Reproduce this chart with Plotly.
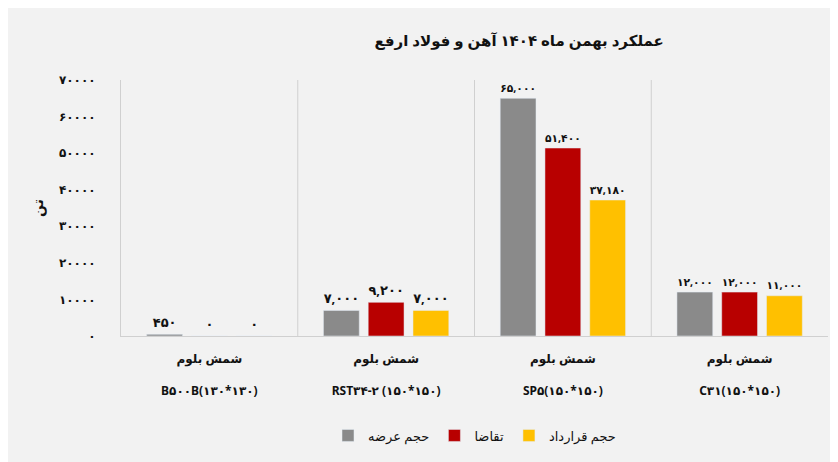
import plotly.graph_objects as go

categories = ["<b>شمش بلوم</b><br><br><b>B۵۰۰B(۱۳۰*۱۳۰)</b>", "<b>شمش بلوم</b><br><br><b>RST۳۴-۲ (۱۵۰*۱۵۰)</b>",
              "<b>شمش بلوم</b><br><br><b>SP۵(۱۵۰*۱۵۰)</b>", "<b>شمش بلوم</b><br><br><b>C۳۱(۱۵۰*۱۵۰)</b>"]
supply = [450, 7000, 65000, 12000]
demand = [0, 9200, 51400, 12000]
contract = [0, 7000, 37180, 11000]
series_names = ["حجم عرضه", "تقاضا", "حجم قرارداد"]
tick_vals = [0, 10000, 20000, 30000, 40000, 50000, 60000, 70000]

FA = str.maketrans("0123456789", "۰۱۲۳۴۵۶۷۸۹")


def fa(n, comma=True):
    s = f"{n:,}" if comma else str(n)
    return s.translate(FA)


colors = ["#8a8a8a", "#b80000", "#ffc000"]
font = "Noto Sans, DejaVu Sans"

fig = go.Figure()
for name, vals, c in zip(series_names, [supply, demand, contract], colors):
    fig.add_trace(go.Bar(
        x=categories, y=vals, name=name, marker=dict(color=c),
        text=["<b>" + fa(v) + "</b>" for v in vals], textposition="outside",
        textfont=dict(size=13, color="#111", family=font),
        cliponaxis=False,
    ))

# vertical separators between categories
for xb in [0.5, 1.5, 2.5]:
    fig.add_shape(type="line", xref="x", yref="paper", x0=xb, x1=xb, y0=0, y1=1,
                  line=dict(color="#d0d0d0", width=1))

fig.update_layout(
    width=838, height=462,
    paper_bgcolor="#f2f2f2", plot_bgcolor="#f2f2f2",
    title=dict(text="<b>عملکرد بهمن ماه ۱۴۰۴ آهن و فولاد ارفع</b>", x=0.61, y=0.94,
               xanchor="center", font=dict(size=15, family=font, color="#111")),
    margin=dict(l=113, r=18, t=72, b=134, autoexpand=False),
    barmode="group", bargap=0.24, bargroupgap=0.2,
    font=dict(family=font, color="#111"),
    legend=dict(orientation="h", x=0.5, xanchor="center", y=-0.33, yanchor="top",
                font=dict(size=13)),
    showlegend=True,
)
fig.update_xaxes(showline=True, linecolor="#d0d0d0", tickfont=dict(size=12, color="#111"),
                 showgrid=False, ticklabelstandoff=12, automargin=False)
fig.update_yaxes(range=[0, 70000], tickvals=tick_vals,
                 ticktext=["<b>" + fa(v, False) + "</b>" for v in tick_vals],
                 showgrid=False, showline=True, linecolor="#d0d0d0",
                 tickfont=dict(size=12, color="#111"), ticks="", ticklabelstandoff=22,
                 title=dict(text="<b>تن</b>", font=dict(size=14), standoff=12),
                 zeroline=False, automargin=False)

fig.write_html("out.html")
